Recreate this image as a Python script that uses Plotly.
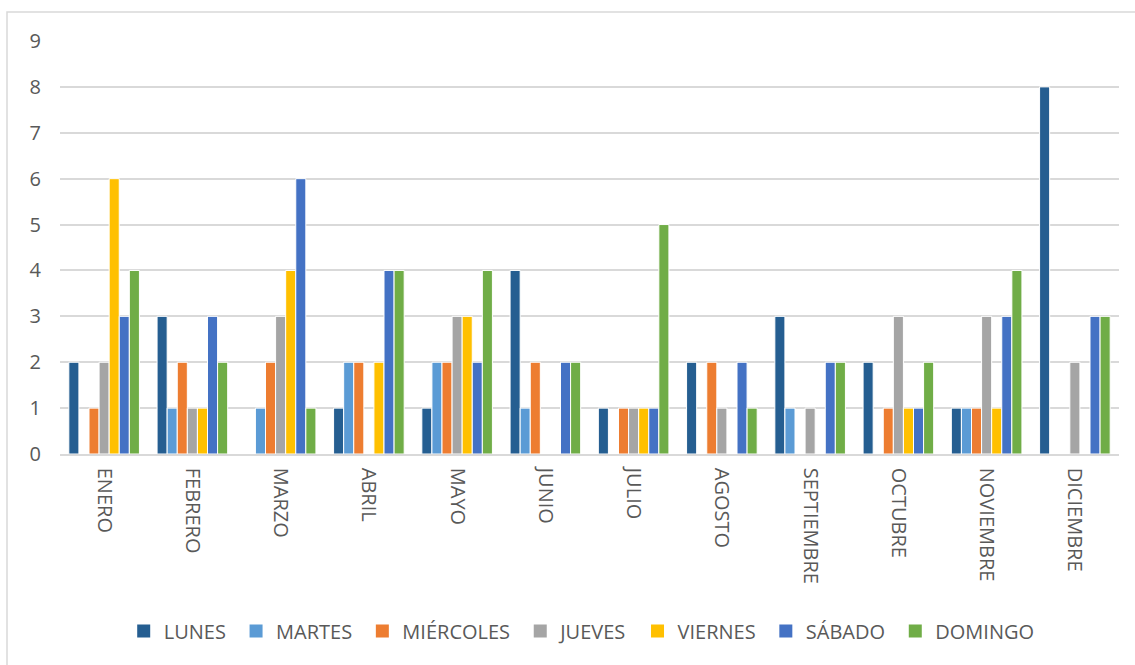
import plotly.graph_objects as go

# Months on the category axis
months = ["ENERO", "FEBRERO", "MARZO", "ABRIL", "MAYO", "JUNIO",
          "JULIO", "AGOSTO", "SEPTIEMBRE", "OCTUBRE", "NOVIEMBRE", "DICIEMBRE"]

# Counts per weekday for each month
lunes     = [2, 3, 0, 1, 1, 4, 1, 2, 3, 2, 1, 8]
martes    = [0, 1, 1, 2, 2, 1, 0, 0, 1, 0, 1, 0]
miercoles = [1, 2, 2, 2, 2, 2, 1, 2, 0, 1, 1, 0]
jueves    = [2, 1, 3, 0, 3, 0, 1, 1, 1, 3, 3, 2]
viernes   = [6, 1, 4, 2, 3, 0, 1, 0, 0, 1, 1, 0]
sabado    = [3, 3, 6, 4, 2, 2, 1, 2, 2, 1, 3, 3]
domingo   = [4, 2, 1, 4, 4, 2, 5, 1, 2, 2, 4, 3]

series = [
    ("LUNES", lunes, "#255E91"),
    ("MARTES", martes, "#5B9BD5"),
    ("MIÉRCOLES", miercoles, "#ED7D31"),
    ("JUEVES", jueves, "#A5A5A5"),
    ("VIERNES", viernes, "#FFC000"),
    ("SÁBADO", sabado, "#4472C4"),
    ("DOMINGO", domingo, "#70AD47"),
]

y_ticks = list(range(0, 10))

W, H = 1135, 665
L, R, T, B = 60, 16, 41, 211
plot_w = W - L - R
plot_h = H - T - B

fig = go.Figure()
for name, vals, color in series:
    fig.add_trace(go.Bar(
        name=name, x=months, y=vals, legendgroup=name, showlegend=False,
        marker=dict(color=color, line=dict(color="white", width=1)),
    ))
# square legend keys (a trailing no-break space widens the gap between entries)
for name, vals, color in series:
    fig.add_trace(go.Scatter(
        name=name + "\u00a0", x=[None], y=[None], mode="markers", legendgroup=name,
        marker=dict(symbol="square", size=13, color=color),
    ))

text_color = "#595959"
grid_color = "#D9D9D9"

# outer chart frame
fig.add_shape(
    type="rect", xref="paper", yref="paper",
    x0=(7 - L) / plot_w, x1=(W + 5 - L) / plot_w,
    y0=-(H + 5 - (H - B)) / plot_h, y1=((H - B) - 12) / plot_h,
    line=dict(color=grid_color, width=1.5), fillcolor="rgba(0,0,0,0)", layer="below",
)

fig.update_layout(
    width=W, height=H,
    margin=dict(l=L, r=R, t=T, b=B),
    paper_bgcolor="white", plot_bgcolor="white",
    barmode="group", bargap=0.2, bargroupgap=0,
    font=dict(family="Open Sans, DejaVu Sans, sans-serif", color=text_color),
    showlegend=True,
    legend=dict(
        orientation="h", x=0.495, xanchor="center",
        y=(H - B - 631) / plot_h, yanchor="middle",
        font=dict(size=20, color=text_color),
        itemsizing="trace", itemwidth=30, traceorder="normal",
    ),
    xaxis=dict(
        tickangle=90, tickfont=dict(size=20, color=text_color),
        showline=True, linecolor=grid_color, linewidth=1.5,
        ticks="", showgrid=False, ticklabelstandoff=8,
    ),
    yaxis=dict(
        range=[0, 9], tickvals=y_ticks, ticktext=[str(v) for v in y_ticks],
        tickfont=dict(size=20, color=text_color),
        showgrid=True, gridcolor=grid_color, gridwidth=1.5,
        zeroline=False, showline=False, ticks="",
        ticklabelstandoff=18,
    ),
)

fig.write_html("out.html")
